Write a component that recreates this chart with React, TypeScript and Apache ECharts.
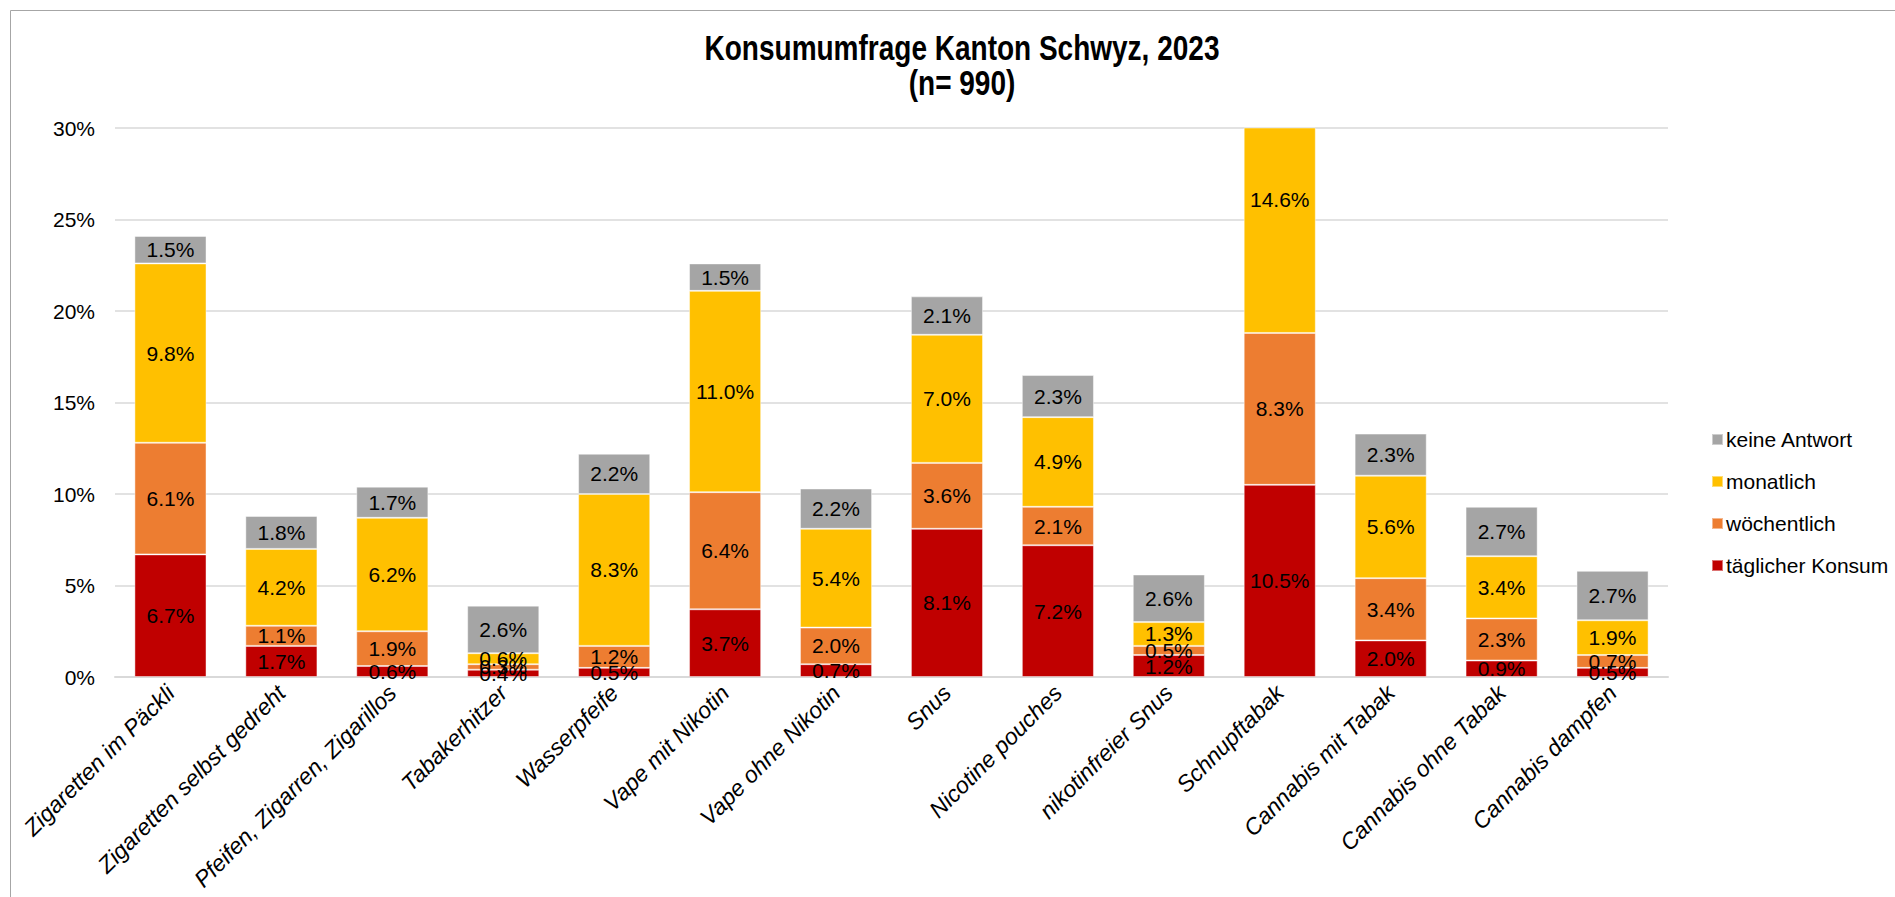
import React, { useEffect, useRef } from "react";
import * as echarts from "echarts";

const categories = [
  "Zigaretten im Päckli",
  "Zigaretten selbst gedreht",
  "Pfeifen, Zigarren, Zigarillos",
  "Tabakerhitzer",
  "Wasserpfeife",
  "Vape mit Nikotin",
  "Vape ohne Nikotin",
  "Snus",
  "Nicotine pouches",
  "nikotinfreier Snus",
  "Schnupftabak",
  "Cannabis mit Tabak",
  "Cannabis ohne Tabak",
  "Cannabis dampfen",
];

const daily = [6.7, 1.7, 0.6, 0.4, 0.5, 3.7, 0.7, 8.1, 7.2, 1.2, 10.5, 2.0, 0.9, 0.5];
const weekly = [6.1, 1.1, 1.9, 0.3, 1.2, 6.4, 2.0, 3.6, 2.1, 0.5, 8.3, 3.4, 2.3, 0.7];
const monthly = [9.8, 4.2, 6.2, 0.6, 8.3, 11.0, 5.4, 7.0, 4.9, 1.3, 14.6, 5.6, 3.4, 1.9];
const noAnswer: (number | null)[] = [1.5, 1.8, 1.7, 2.6, 2.2, 1.5, 2.2, 2.1, 2.3, 2.6, null, 2.3, 2.7, 2.7];

const seriesNames = ["täglicher Konsum", "wöchentlich", "monatlich", "keine Antwort"];
const seriesColors = ["#C00000", "#ED7D31", "#FFC000", "#A5A5A5"];
const yTicks = { min: 0, max: 30, interval: 5 };
const titleLines = ["Konsumumfrage Kanton Schwyz, 2023", "(n= 990)"];

const W = 1895;
const H = 897;
const GRID = { left: 115, right: 227, top: 128, bottom: 220 };
const FONT = "'Liberation Sans', Arial, sans-serif";

export default function App() {
  const ref = useRef<HTMLDivElement>(null);

  useEffect(() => {
    if (!ref.current) return;
    const chart = echarts.init(ref.current, undefined, { renderer: "svg" });
    const plotH = H - GRID.top - GRID.bottom;
    const pxPerUnit = plotH / (yTicks.max - yTicks.min);
    const allSeries = [daily, weekly, monthly, noAnswer];
    const base = categories.map(() => 0);

    const series = allSeries.map((vals, si) => {
      const data = vals.map((v, i) => {
        const start = base[i];
        const end = start + (v ?? 0);
        base[i] = end;
        if (v == null) return null;
        if (end > yTicks.max) {
          // keep label at centre of the full (unclipped) segment
          const clippedMid = (start + yTicks.max) / 2;
          const fullMid = (start + end) / 2;
          return {
            value: v,
            label: { offset: [0, -(fullMid - clippedMid) * pxPerUnit] },
          };
        }
        return v;
      });
      return {
        name: seriesNames[si],
        type: "bar",
        stack: "total",
        barCategoryGap: "35%",
        clip: true,
        data,
        itemStyle: {
          color: seriesColors[si],
          borderColor: "rgba(255,255,255,0.45)",
          borderWidth: 1,
        },
        label: {
          show: true,
          position: "inside",
          color: "#000",
          fontSize: 21,
          fontFamily: FONT,
          formatter: (p: any) => (p.value == null ? "" : Number(p.value).toFixed(1) + "%"),
        },
      };
    });

    chart.setOption({
      animation: false,
      backgroundColor: "#fff",
      textStyle: { fontFamily: FONT },
      graphic: [
        {
          type: "rect",
          silent: true,
          shape: { x: 10.5, y: 10.5, width: 2000, height: 1000 },
          style: { fill: "transparent", stroke: "#A6A6A6", lineWidth: 1 },
        },
        ...titleLines.map((t, i) => ({
          type: "text",
          silent: true,
          x: 962,
          y: 48 + i * 35,
          scaleX: 0.8,
          style: {
            text: t,
            font: `bold 35px ${FONT}`,
            fill: "#000",
            textAlign: "center",
            textVerticalAlign: "middle",
          },
        })),
      ],
      legend: {
        orient: "vertical",
        left: 1706,
        top: 424,
        data: ["keine Antwort", "monatlich", "wöchentlich", "täglicher Konsum"],
        icon: "rect",
        itemWidth: 11,
        itemHeight: 11,
        itemGap: 21,
        textStyle: { fontSize: 21, color: "#000", lineHeight: 21, padding: [0, 0, 0, -2] },
      },
      grid: { ...GRID, containLabel: false },
      xAxis: {
        type: "category",
        data: categories,
        axisLine: { lineStyle: { color: "#D9D9D9", width: 2 } },
        axisTick: { show: false },
        axisLabel: {
          rotate: 45,
          interval: 0,
          fontSize: 23,
          fontStyle: "italic",
          color: "#000",
          margin: 12,
        },
      },
      yAxis: {
        type: "value",
        min: yTicks.min,
        max: yTicks.max,
        interval: yTicks.interval,
        axisLine: { show: false },
        axisTick: { show: false },
        splitLine: { lineStyle: { color: "#D9D9D9", width: 1.5 } },
        axisLabel: {
          fontSize: 21,
          color: "#000",
          margin: 20,
          formatter: (v: number) => v + "%",
        },
      },
      series,
    });
    return () => chart.dispose();
  }, []);

  return (
    <div
      ref={ref}
      style={{ position: "absolute", left: 0, top: 0, width: W, height: H }}
    />
  );
}
